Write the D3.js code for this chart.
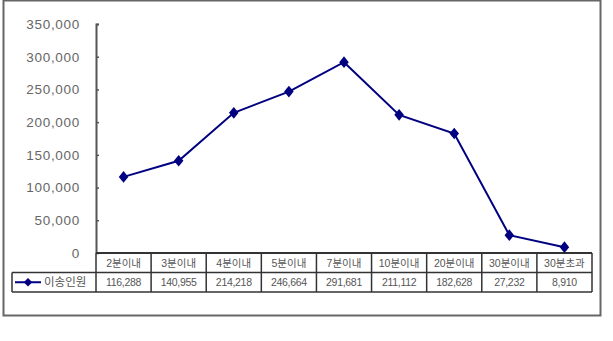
<!DOCTYPE html>
<html>
<head>
<meta charset="utf-8">
<script src="https://cdn.jsdelivr.net/npm/d3@7"></script>
<style>
  body { margin: 0; background: #fff; }
  svg text { font-family: "Liberation Sans", "Noto Sans CJK KR", sans-serif; }
</style>
</head>
<body>
<div id="chart"></div>
<script>
// data
var categories = ["2분이내", "3분이내", "4분이내", "5분이내", "7분이내", "10분이내", "20분이내", "30분이내", "30분초과"];
var values = [116288, 140955, 214218, 246664, 291681, 211112, 182628, 27232, 8910];
var seriesName = "이송인원";
var yTicks = [0, 50000, 100000, 150000, 200000, 250000, 300000, 350000];

var width = 613, height = 341;
var margin = {top: 24, left: 96, right: 21, bottom: 88};
var plotW = width - margin.left - margin.right;
var plotH = height - margin.top - margin.bottom;
var rowH = 19.5;

var svg = d3.select("#chart").append("svg")
    .attr("width", width)
    .attr("height", height);

// outer frame
svg.append("rect")
    .attr("x", 3.5).attr("y", 0.5)
    .attr("width", 597).attr("height", 315)
    .attr("fill", "none").attr("stroke", "#666").attr("stroke-width", 2);

var g = svg.append("g")
    .attr("transform", `translate(${margin.left},${margin.top})`);

var x = d3.scaleBand().domain(categories).range([0, plotW]);
var y = d3.scaleLinear().domain([0, 350000]).range([plotH, 0]);

// y axis
var yAxis = d3.axisLeft(y)
    .tickValues(yTicks)
    .tickSize(-3)
    .tickPadding(16)
    .tickFormat(d3.format(","));
var ya = g.append("g").call(yAxis);
ya.select(".domain").attr("stroke", "#555").attr("stroke-width", 2).attr("d", `M3,0.5H0.5V${plotH}`);
ya.selectAll(".tick line").attr("stroke", "#555").attr("stroke-width", 1.5);
ya.selectAll("text")
    .attr("fill", "#666")
    .style("font-size", "13.5px")
    .attr("letter-spacing", "0.7px");

// table
var t = g.append("g").attr("transform", `translate(0,${plotH})`);
var legendX = 12 - margin.left;

t.append("line").attr("x1", 0).attr("x2", plotW).attr("y1", 0).attr("y2", 0)
    .attr("stroke", "#333").attr("stroke-width", 2);
t.append("line").attr("x1", legendX).attr("x2", plotW).attr("y1", rowH).attr("y2", rowH)
    .attr("stroke", "#333").attr("stroke-width", 1.5);
t.append("line").attr("x1", legendX).attr("x2", plotW).attr("y1", rowH * 2).attr("y2", rowH * 2)
    .attr("stroke", "#333").attr("stroke-width", 1.5);
t.append("line").attr("x1", legendX).attr("x2", legendX).attr("y1", rowH).attr("y2", rowH * 2)
    .attr("stroke", "#333").attr("stroke-width", 1.5);

var bounds = categories.map(function(c) { return x(c); }).concat([plotW]);
t.selectAll(".vline").data(bounds).enter().append("line")
    .attr("class", "vline")
    .attr("x1", function(d) { return d; }).attr("x2", function(d) { return d; })
    .attr("y1", 0).attr("y2", rowH * 2)
    .attr("stroke", "#333").attr("stroke-width", 1.5);

t.selectAll(".cat").data(categories).enter().append("text")
    .attr("class", "cat")
    .attr("x", function(d) { return x(d) + x.bandwidth() / 2; })
    .attr("y", rowH / 2 + 4)
    .attr("text-anchor", "middle")
    .attr("fill", "#555")
    .style("font-size", "10.5px")
    .text(function(d) { return d; });

t.selectAll(".val").data(values).enter().append("text")
    .attr("class", "val")
    .attr("x", function(d, i) { return x(categories[i]) + x.bandwidth() / 2; })
    .attr("y", rowH * 1.5 + 4)
    .attr("text-anchor", "middle")
    .attr("fill", "#555")
    .style("font-size", "10.5px")
    .attr("letter-spacing", "-0.3px")
    .text(function(d) { return d3.format(",")(d); });

// legend key
var lg = t.append("g").attr("transform", `translate(${legendX},${rowH * 1.5})`);
lg.append("line").attr("x1", 3).attr("x2", 29).attr("y1", 0).attr("y2", 0)
    .attr("stroke", "#000080").attr("stroke-width", 2);
lg.append("path").attr("d", d3.symbol(d3.symbolSquare, 36)())
    .attr("transform", "translate(16,0) rotate(45)").attr("fill", "#000080");
lg.append("text").attr("x", 32).attr("y", 4)
    .attr("fill", "#555").style("font-size", "11.5px")
    .text(seriesName);

// line + markers
var line = d3.line()
    .x(function(d, i) { return x(categories[i]) + x.bandwidth() / 2; })
    .y(function(d) { return y(d); });

g.append("path").datum(values)
    .attr("d", line)
    .attr("fill", "none")
    .attr("stroke", "#000080")
    .attr("stroke-width", 2);

g.selectAll(".pt").data(values).enter().append("path")
    .attr("class", "pt")
    .attr("d", d3.symbol(d3.symbolSquare, 56)())
    .attr("transform", function(d, i) {
      return `translate(${x(categories[i]) + x.bandwidth() / 2},${y(d)}) scale(0.9,1.1) rotate(45)`;
    })
    .attr("fill", "#000080");
</script>
</body>
</html>
